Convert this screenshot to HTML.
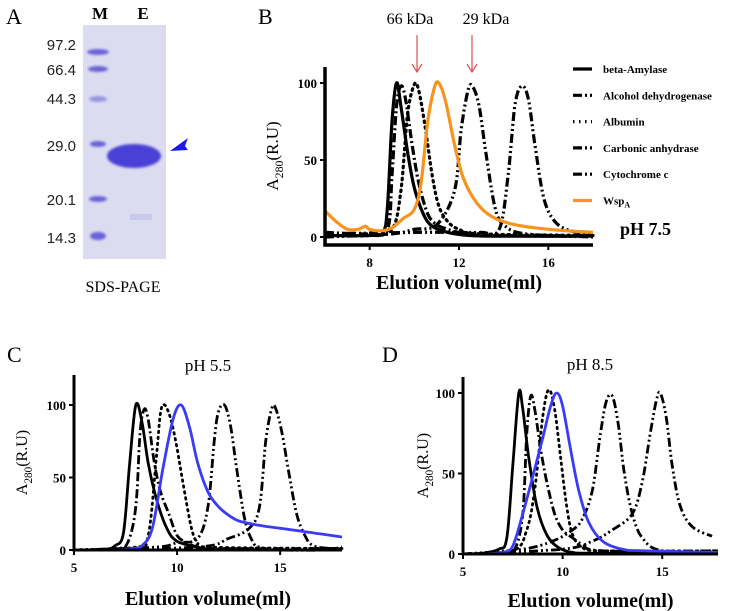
<!DOCTYPE html>
<html><head><meta charset="utf-8"><style>
html,body{margin:0;padding:0;background:#fff;}
svg{display:block;font-family:"Liberation Serif",serif;}
</style></head><body>
<svg id="fig" width="749" height="611" viewBox="0 0 749 611" xmlns="http://www.w3.org/2000/svg">
<defs><filter id="blur" x="-20%" y="-50%" width="140%" height="200%"><feGaussianBlur stdDeviation="1.2"/></filter></defs>
<g>
<text x="6" y="24" font-size="22">A</text>
<text x="100" y="19" font-size="17" font-weight="bold" text-anchor="middle">M</text>
<text x="143" y="19" font-size="17" font-weight="bold" text-anchor="middle">E</text>
<rect x="83" y="25" width="83" height="234" fill="#dcdcf0"/>
<g font-family="Liberation Sans,sans-serif" font-size="15" text-anchor="end" fill="#222">
<text x="76" y="50">97.2</text><text x="76" y="75">66.4</text><text x="76" y="104">44.3</text>
<text x="76" y="151">29.0</text><text x="76" y="205">20.1</text><text x="76" y="243">14.3</text></g>
<g fill="#6a62d8" filter="url(#blur)">
<ellipse cx="98" cy="52" rx="11" ry="3"/><ellipse cx="98" cy="69" rx="10" ry="3"/><ellipse cx="98" cy="99" rx="9" ry="3" opacity=".6"/>
<ellipse cx="98" cy="144" rx="8" ry="3"/><ellipse cx="98" cy="199" rx="9" ry="3"/><ellipse cx="98" cy="236" rx="8" ry="4"/></g>
<ellipse cx="134" cy="156" rx="27" ry="12" fill="#4a3fd6" filter="url(#blur)"/>
<rect x="130" y="214" width="22" height="6" fill="#c8c8ea"/>
<polygon points="170,151 188,138 185,146 188,150" fill="#1a1aee"/>
<text x="123" y="292" font-size="16" text-anchor="middle">SDS-PAGE</text>
</g>
<text x="258" y="24" font-size="22">B</text>
<text x="410" y="24" font-size="16" text-anchor="middle">66 kDa</text>
<text x="486" y="24" font-size="16" text-anchor="middle">29 kDa</text>
<g stroke="#d9534f" stroke-width="1.2" fill="none">
<path d="M417 35V72M412 64L417 72L422 64"/><path d="M472 35V72M467 64L472 72L477 64"/></g>
<text x="620" y="235" font-size="18" font-weight="bold">pH 7.5</text>
<text x="7" y="362" font-size="22">C</text>
<text x="208" y="371" font-size="17" text-anchor="middle">pH 5.5</text>
<text x="382" y="362" font-size="22">D</text>
<text x="590" y="370" font-size="17" text-anchor="middle">pH 8.5</text>
<g id="legend"></g>
</svg>
<script>
// Panel B (pH 7.5)
const bAmyX=[6,8,8.6,8.8,9.0,9.2,9.4,9.7,10.0,10.4,10.8,11.5,12.5,14,18];
const bAmyY=[1,1,3,20,75,100,85,55,32,15,7,3,1,0.5,0.5];
const bAdhX=[6,8,8.8,9.0,9.2,9.4,9.6,9.9,10.2,10.6,11,11.5,12,13,18];
const bAdhY=[3,2,5,40,85,98,90,60,35,15,8,5,3,1,1];
const bAlbX=[6,8,9,9.4,9.7,10.0,10.2,10.5,10.8,11.1,11.5,12,13,18];
const bAlbY=[1,1,5,30,80,99,95,70,40,20,10,5,2,1];
const bCarX=[6,9,10,11,11.8,12.1,12.4,12.6,12.9,13.2,13.6,14,15,18];
const bCarY=[0,2,5,8,30,70,95,98,85,55,20,8,2,0];
const bCytX=[6,10,12,13,13.8,14.2,14.5,14.8,15.1,15.4,15.8,16.3,17,18];
const bCytY=[2,3,3,3,5,40,85,98,90,60,25,10,4,2];
const bWspX=[6,6.5,7,7.5,7.8,8,8.5,9,9.5,10,10.3,10.6,10.9,11.1,11.4,11.8,12.2,12.8,13.5,14.5,16,18];
const bWspY=[17,10,5,5,7,5,4,6,12,18,35,75,97,100,88,60,38,22,13,8,5,3];
// Panel C (pH 5.5)
const cAmyX=[5,6.5,7,7.4,7.7,8.0,8.3,8.6,9,9.5,10,11,12,18];
const cAmyY=[0,0.5,3,12,60,100,88,60,35,15,6,2,0.5,0];
const cAdhX=[5,7,7.6,8.0,8.2,8.4,8.6,8.9,9.2,9.6,10,10.5,11,12,18];
const cAdhY=[0,1,5,30,80,97,90,60,40,25,10,5,2,1,1];
const cAlbX=[5,8,8.6,9.0,9.2,9.4,9.7,10,10.3,10.7,11,11.5,18];
const cAlbY=[0,2,10,65,95,100,90,70,45,15,5,2,1];
const cCarX=[5,9,10,11,11.5,11.8,12.0,12.3,12.6,12.9,13.3,13.7,14,15,18];
const cCarY=[0,2,5,8,30,75,95,100,85,55,20,5,2,0,0];
const cCytX=[5,11,12.5,13.5,14,14.3,14.6,14.8,15.1,15.4,15.8,16.2,16.6,17.5,18];
const cCytY=[0,2,8,15,30,75,98,97,80,55,25,10,3,1,2];
const cWspX=[5,7,7.8,8.3,8.8,9.3,9.8,10.2,10.6,11,11.5,12,12.5,13,14,15,16,17,18];
const cWspY=[0,0,1,3,15,55,90,100,85,60,40,30,24,20,17,15,13,11,9];
// Panel D (pH 8.5)
const dAmyX=[5,6,6.8,7.2,7.5,7.8,8.0,8.3,8.7,9.2,9.8,10.5,11.5,17.8];
const dAmyY=[0,0.5,3,10,55,100,90,60,30,12,4,1,0.5,0.5];
const dAdhX=[5,7,7.6,8,8.2,8.4,8.6,8.9,9.2,9.6,10,10.5,11,12,17.8];
const dAdhY=[0,1,3,25,75,98,90,65,45,25,15,10,6,2,2];
const dAlbX=[5,7.5,8.2,8.6,9.0,9.3,9.6,9.9,10.2,10.5,11,12,17.8];
const dAlbY=[0,2,15,40,85,102,90,60,30,12,4,2,2];
const dCarX=[5,8,9.5,10.5,11.0,11.5,11.9,12.2,12.5,12.8,13.1,13.5,14,15,17.8];
const dCarY=[0,3,8,15,22,40,75,95,98,80,50,25,10,2,1];
const dCytX=[5,10,11.5,12.5,13.5,14,14.4,14.7,14.9,15.2,15.5,15.9,16.5,17.5];
const dCytY=[0,3,8,15,25,45,75,95,100,85,55,30,17,11];
const dWspX=[5,6,7,7.5,8,8.5,9,9.4,9.7,10,10.4,10.8,11.3,12,13,14,17.8];
const dWspY=[0,0,1,5,25,48,72,92,100,92,65,40,20,8,3,2,1];
const bTicksX=[8,12,16]; const cdTicksX=[5,10,15]; const ticksY=[0,50,100];
const legendNames=["beta-Amylase","Alcohol dehydrogenase","Albumin","Carbonic anhydrase","Cytochrome c","Wsp"];

const NS="http://www.w3.org/2000/svg";
const svg=document.getElementById('fig');
const DASH={solid:"",dd:"9,3,2,3",dot:"1.5,4.5",ddd:"9,3,2,3,2,3"};
function mk(tag,attrs,parent){const e=document.createElementNS(NS,tag);for(const k in attrs)e.setAttribute(k,attrs[k]);(parent||svg).appendChild(e);return e;}
function spline(pts){let d="M"+pts[0][0].toFixed(1)+" "+pts[0][1].toFixed(1);
 for(let i=0;i<pts.length-1;i++){const p0=pts[i-1]||pts[i],p1=pts[i],p2=pts[i+1],p3=pts[i+2]||p2;
  const c1=[p1[0]+(p2[0]-p0[0])/6,p1[1]+(p2[1]-p0[1])/6],c2=[p2[0]-(p3[0]-p1[0])/6,p2[1]-(p3[1]-p1[1])/6];
  d+="C"+c1[0].toFixed(1)+" "+c1[1].toFixed(1)+" "+c2[0].toFixed(1)+" "+c2[1].toFixed(1)+" "+p2[0].toFixed(1)+" "+p2[1].toFixed(1);}
 return d;}
function panel(cfg){
 const g=mk('g',{});
 
 
 const sx=v=>cfg.x0+(v-cfg.xmin)*(cfg.x1-cfg.x0)/(cfg.xmax-cfg.xmin);
 const sy=v=>cfg.y0+(v)*(cfg.y100-cfg.y0)/100;
 cfg.series.forEach(s=>{
  const pts=s.x.map((v,i)=>[sx(v),sy(s.y[i])]);
  const p=mk('path',{d:spline(pts),fill:'none',stroke:s.color||'#000','stroke-width':cfg.lw,'stroke-dasharray':DASH[s.dash],'stroke-linecap':s.dash==='dot'?'round':'butt'},g);
  
  
 });
 const ax=mk('path',{d:`M${cfg.x0} ${cfg.ytop}V${cfg.axY}H${cfg.x1}`,fill:'none',stroke:'#000','stroke-width':cfg.aw},g);
 
 
 cfg.ticksX.forEach(t=>{
  mk('line',{x1:sx(t),x2:sx(t),y1:cfg.axY,y2:cfg.axY+5,stroke:'#000','stroke-width':2},g);
  const tx=mk('text',{x:sx(t),y:cfg.axY+cfg.tly,'font-size':cfg.tfs,'font-weight':'bold','text-anchor':'middle'},g);
  tx.textContent=t;
  
  
 });
 ticksY.forEach(t=>{
  mk('line',{x1:cfg.x0-5,x2:cfg.x0,y1:sy(t),y2:sy(t),stroke:'#000','stroke-width':2},g);
  const tx=mk('text',{x:cfg.x0-8,y:sy(t)+5,'font-size':cfg.tfs,'font-weight':'bold','text-anchor':'end'},g);
  tx.textContent=t;
  
  
 });
 const xt=mk('text',{x:(cfg.x0+cfg.x1)/2,y:cfg.xtY,'font-size':cfg.xtfs,'font-weight':'bold','text-anchor':'middle'},g);
 xt.textContent='Elution volume(ml)';
 
 
 const yt=mk('text',{x:0,y:0,'font-size':cfg.ytfs,'text-anchor':'middle',transform:`translate(${cfg.ytX},${(cfg.ytop+cfg.axY)/2}) rotate(-90)`},g);
 yt.innerHTML='A<tspan font-size="'+(cfg.ytfs*0.7)+'" dy="5">280</tspan><tspan dy="-5">(R.U)</tspan>';
 
 
}
function ser(p,col){return [
 {name:'beta-amylase-line',x:p[0],y:p[1],dash:'solid'},
 {name:'alcohol-dehydrogenase-line',x:p[2],y:p[3],dash:'dd'},
 {name:'albumin-line',x:p[4],y:p[5],dash:'dot'},
 {name:'carbonic-anhydrase-line',x:p[6],y:p[7],dash:'ddd'},
 {name:'cytochrome-c-line',x:p[8],y:p[9],dash:'ddd'},
 {name:'wspa-line',x:p[10],y:p[11],dash:'solid',color:col}];}
panel({name:'panel-b-chart',x0:325,x1:593,xmin:6,xmax:18,y0:237,y100:83,ytop:67,axY:245,aw:3.5,lw:3.2,
 ticksX:bTicksX,tly:22,tfs:13,xtY:289,xtfs:20,ytX:278,ytfs:17,
 series:ser([bAmyX,bAmyY,bAdhX,bAdhY,bAlbX,bAlbY,bCarX,bCarY,bCytX,bCytY,bWspX,bWspY],'#f7941d')});
panel({name:'panel-c-chart',x0:74,x1:342,xmin:5,xmax:18,y0:550,y100:405,ytop:375,axY:550,aw:3,lw:2.8,
 ticksX:cdTicksX,tly:22,tfs:13,xtY:605,xtfs:20,ytX:27,ytfs:16,
 series:ser([cAmyX,cAmyY,cAdhX,cAdhY,cAlbX,cAlbY,cCarX,cCarY,cCytX,cCytY,cWspX,cWspY],'#3b3bf5')});
panel({name:'panel-d-chart',x0:463,x1:718,xmin:5,xmax:17.8,y0:554,y100:393,ytop:377,axY:554,aw:3,lw:2.8,
 ticksX:cdTicksX,tly:22,tfs:13,xtY:607,xtfs:20,ytX:428,ytfs:16,
 series:ser([dAmyX,dAmyY,dAdhX,dAdhY,dAlbX,dAlbY,dCarX,dCarY,dCytX,dCytY,dWspX,dWspY],'#3b3bf5')});
const lg=document.getElementById('legend');
const ldash=['solid','dd','dot','ddd','ddd','solid'];
legendNames.forEach((n,i)=>{
 const y=69+i*26.3;
 const l=mk('line',{x1:573,x2:592,y1:y,y2:y,stroke:i===5?'#f7941d':'#000','stroke-width':3.2,'stroke-dasharray':DASH[ldash[i]]},lg);
 
 
 const t=mk('text',{x:603,y:y+4,'font-size':11,'font-weight':'bold'},lg);
 t.innerHTML=i===5?'Wsp<tspan font-size="8" dy="3">A</tspan>':n;
 
 
});
</script>
</body></html>
